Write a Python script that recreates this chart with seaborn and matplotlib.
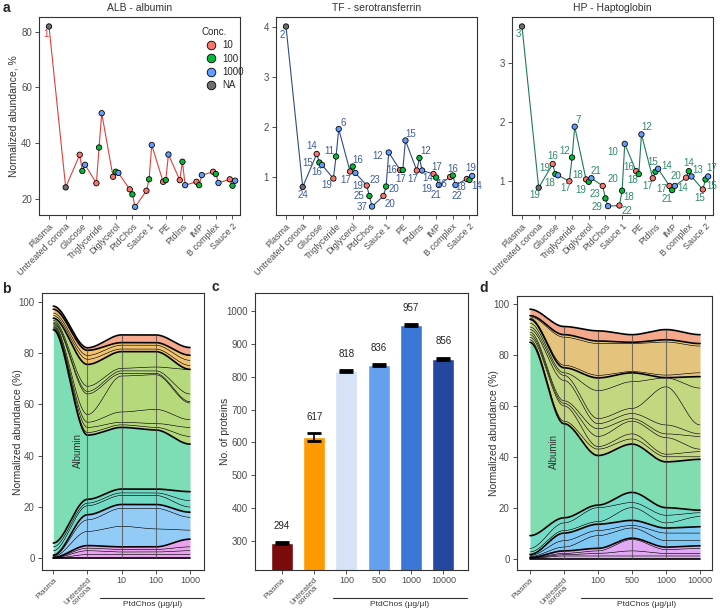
import matplotlib
matplotlib.use("Agg")
import matplotlib.pyplot as plt
import seaborn as sns
import pandas as pd
import numpy as np

sns.set_theme(style="ticks")
plt.rcParams['font.family'] = ['Liberation Sans', 'DejaVu Sans']
plt.rcParams.update({'axes.edgecolor': '#333333', 'axes.linewidth': 0.8,
                     'xtick.color': '#333333', 'ytick.color': '#333333',
                     'xtick.labelcolor': '#4d4d4d', 'ytick.labelcolor': '#4d4d4d',
                     'xtick.major.size': 3, 'ytick.major.size': 3,
                     'xtick.major.width': 0.6, 'ytick.major.width': 0.6})

# ---------------- panel a data ----------------
categories = ['Plasma', 'Untreated corona', 'Glucose', 'Triglyceride', 'Diglycerol', 'PtdChos',
              'Sauce 1', 'PE', 'PtdIns', 'IMP', 'B complex', 'Sauce 2']
conc_levels = ['10', '100', '1000', 'NA']
conc_seq = ['NA', 'NA'] + ['10', '100', '1000'] * 10
cat_seq = categories[:2] + [c for c in categories[2:] for _ in range(3)]

alb_vals = [81.8, 24.1,
            35.8, 30.0, 32.2, 25.6, 38.4, 50.7, 27.9, 29.7, 29.3, 23.4, 21.6, 17.1,
            22.9, 27.0, 39.3, 26.1, 26.7, 35.9, 26.7, 33.3, 24.9, 26.1, 24.9, 28.5,
            29.7, 28.9, 25.7, 27.0, 24.7, 26.5]
alb_labels = ['1'] + [''] * 31

tf_vals = [4.0, 0.79,
           1.45, 1.28, 1.23, 0.96, 1.40, 1.95, 1.10, 1.20, 1.07, 0.82, 0.61, 0.40,
           0.61, 0.80, 1.48, 1.13, 1.13, 1.72, 1.12, 1.37, 1.12, 1.05, 0.98, 0.83,
           0.99, 1.02, 0.83, 0.95, 0.93, 1.01]
tf_labels = ['2', '24', '14', '15', '16', '19', '11', '6', '17', '16', '19', '23', '25', '37',
             '20', '20', '12', '16', '17', '15', '17', '12', '14', '17', '19', '21',
             '16', '16', '22', '18', '14', '19']

hp_vals = [3.61, 0.89,
           1.29, 1.12, 1.10, 1.00, 1.40, 1.92, 1.03, 0.99, 1.05, 0.92, 0.71, 0.58,
           0.59, 0.84, 1.63, 1.17, 1.12, 1.79, 1.05, 1.16, 1.21, 0.92, 0.85, 0.92,
           1.06, 1.17, 1.08, 0.86, 1.03, 1.08]
hp_labels = ['3', '19', '16', '19', '18', '17', '12', '7', '18', '19', '21', '20', '23', '29',
             '22', '18', '10', '16', '18', '12', '17', '15', '14', '17', '21', '14',
             '20', '14', '13', '15', '15', '17']

# label placement (pixel offsets, image convention: +y is down)
alb_off = [(-3, 8)] + [(0, 0)] * 31
tf_off = [(-4, 8), (0, 8), (-5, -8), (-12, 0), (-5, 7), (-7, 6), (-7, -6), (5, -6), (-4, 8), (5, -7),
          (2, 13), (8, -6), (-10, 0), (-10, 0), (7, 8), (8, 2), (-11, 3), (-8, 0), (-2, 9), (5, -7),
          (-4, 8), (6, -7), (6, 7), (3, -7), (-9, 11), (-3, 10), (-8, 7), (0, -7), (1, 11), (-6, 8),
          (7, 6), (-1, -8)]
hp_off = [(-4, 8), (-4, 7), (0, -8), (-11, -6), (-8, 8), (-4, 7), (-7, -6), (3, -7), (-8, -4), (-8, 8),
          (5, -7), (10, -7), (-10, -4), (-11, 1), (8, 5), (7, 6), (-12, 8), (-7, -4), (-6, 6), (5, -7),
          (-5, 8), (-3, -10), (9, -3), (-8, 3), (-5, 9), (8, 2), (-10, -2), (0, -8), (6, -6), (-3, 8),
          (6, 7), (4, -8)]

conc_palette = {'10': '#F8766D', '100': '#00BA38', '1000': '#619CFF', 'NA': '#6e6e6e'}
dodge = {'10': -0.16, '100': 0.0, '1000': 0.16, 'NA': 0.0}

# ---------------- panel b / d data (stratum thickness, bottom to top) ----------------
b_conditions = ['Plasma', 'Untreated\ncorona', '10', '100', '1000']
b_groups = ['pink'] * 4 + ['blue'] * 3 + ['teal'] * 3 + ['albumin'] + ['lgreen'] * 8 + ['orange'] * 3 + ['salmon']
b_strata = [
    [0.1, 1.5, 1.5, 1.5, 1.5], [0.1, 1.5, 1.0, 1.0, 1.5], [0.1, 1.0, 1.0, 1.0, 1.5], [0.1, 1.0, 1.0, 1.0, 3.0],
    [0.3, 5.5, 8.0, 7.0, 3.5], [0.3, 4.5, 7.0, 8.0, 5.0], [0.3, 2.0, 1.5, 1.5, 2.0],
    [1.7, 3.5, 3.5, 3.5, 2.0], [1.5, 1.0, 1.0, 1.0, 2.5], [1.5, 1.5, 1.5, 1.5, 3.5],
    [83.0, 25.0, 24.0, 23.0, 18.5],
    [0.5, 1.0, 1.0, 1.0, 3.0], [0.5, 2.0, 1.0, 1.5, 3.5], [0.5, 2.0, 4.0, 5.5, 3.0], [0.5, 3.0, 14.0, 13.5, 6.5],
    [0.5, 8.0, 1.0, 0.5, 0.5], [0.5, 1.0, 1.0, 1.0, 3.0], [0.7, 2.0, 1.0, 1.5, 9.5], [0.8, 8.5, 6.5, 6.0, 0.1],
    [1.0, 2.0, 1.0, 1.0, 1.5], [1.0, 1.5, 1.5, 1.5, 2.0], [1.5, 2.0, 1.0, 1.0, 2.0],
    [1.2, 1.0, 3.0, 3.0, 3.0],
]
b_colors = {'pink': '#EBA3F0', 'blue': '#93CBF7', 'teal': '#72DBC5', 'albumin': '#7DDDB4',
            'lgreen': '#B5D97B', 'orange': '#F1C36F', 'salmon': '#F6A98C'}

d_conditions = ['Plasma', 'Untreated\ncorona', '100', '500', '1000', '10000']
d_groups = b_groups
d_strata = [
    [0.1, 1.0, 1.0, 1.0, 1.0, 1.0], [0.1, 0.5, 1.0, 2.0, 1.0, 1.0], [0.1, 0.5, 1.0, 4.5, 1.5, 2.0],
    [0.1, 1.0, 1.0, 0.5, 1.0, 1.0],
    [0.4, 1.5, 5.0, 4.0, 2.5, 2.0], [0.4, 2.5, 2.0, 1.0, 3.0, 3.0], [0.4, 3.0, 2.5, 2.0, 2.0, 2.5],
    [1.0, 1.0, 1.0, 5.0, 2.0, 4.0], [1.4, 3.0, 5.5, 2.0, 3.0, 1.5], [5.0, 2.0, 1.0, 4.0, 3.0, 1.0],
    [76.0, 37.0, 19.5, 19.0, 18.0, 20.0],
    [1.0, 1.0, 2.5, 2.0, 2.0, 1.0], [1.0, 6.0, 1.0, 2.0, 1.0, 2.0], [1.0, 1.0, 4.0, 5.0, 6.5, 1.0],
    [1.0, 1.0, 3.0, 1.0, 1.5, 5.0], [1.0, 8.0, 2.0, 2.0, 3.5, 1.0], [1.0, 2.0, 2.0, 2.0, 15.0, 3.5],
    [1.5, 1.0, 11.0, 10.5, 3.5, 14.5], [1.5, 2.0, 5.0, 3.5, 0.1, 4.5],
    [0.5, 1.0, 1.0, 0.5, 1.0, 1.5], [0.5, 11.0, 12.5, 11.0, 13.0, 10.5], [0.5, 1.0, 1.0, 0.5, 0.9, 1.0],
    [2.5, 3.2, 4.0, 3.0, 4.0, 3.5],
]
d_colors = {'pink': '#E1A8F4', 'blue': '#7FC8F3', 'teal': '#74DCC6', 'albumin': '#80DDB0',
            'lgreen': '#C3D680', 'orange': '#E4C37C', 'salmon': '#F4A98A'}

# ---------------- panel c data ----------------
c_conditions = ['Plasma', 'Untreated\ncorona', '100', '500', '1000', '10000']
c_counts = [294, 617, 818, 836, 957, 856]
c_errors = [3, 12, 2, 3, 3, 3]
c_colors = ['#7B0B0B', '#FF9900', '#D6E2F7', '#64A0EE', '#3B77D6', '#2447A0']

fig = plt.figure(figsize=(7.2, 6.1), dpi=100)
W, H = 720, 610


def add_axes_px(l, t, r, b):
    return fig.add_axes([l / W, 1 - b / H, (r - l) / W, (b - t) / H])


def style_ticks(ax):
    ax.tick_params(labelsize=7, pad=2)
    for s in ax.spines.values():
        s.set_color('#333333')
        s.set_linewidth(0.8)


def rotate_first_two(ax):
    ax.tick_params(axis='x', pad=1.5)
    for k, tl in enumerate(ax.get_xticklabels()):
        if k < 2:
            tl.set_rotation(45)
            tl.set_ha('right')
            tl.set_rotation_mode('anchor')
            tl.set_multialignment('center')
            tl.set_linespacing(0.85)
            tl.set_fontsize(5.8)


# ---------------- panel a ----------------
panels_a = [('ALB - albumin', alb_vals, alb_labels, alb_off, '#E0403A', '#E0403A', (14.2, 85.2), [20, 40, 60, 80], 39),
            ('TF - serotransferrin', tf_vals, tf_labels, tf_off, '#2F4C8C', '#3D5C9A', (0.23, 4.19), [1, 2, 3, 4], 276),
            ('HP - Haptoglobin', hp_vals, hp_labels, hp_off, '#1E7A5A', '#2E8B68', (0.43, 3.77), [1, 2, 3], 512)]

for i, (title, vals, labs, offs, lcol, tcol, ylim, yt, left) in enumerate(panels_a):
    ax = add_axes_px(left, 17, left + 201, 215)
    df = pd.DataFrame({'Category': cat_seq, 'Conc': conc_seq, 'Value': vals, 'Label': labs})
    df['x'] = [categories.index(c) + dodge[k] for c, k in zip(df['Category'], df['Conc'])]
    sns.lineplot(data=df, x='x', y='Value', sort=False, estimator=None, color=lcol, lw=0.8, ax=ax)
    sns.scatterplot(data=df, x='x', y='Value', hue='Conc', hue_order=conc_levels, palette=conc_palette,
                    edgecolor='black', linewidth=0.6, s=15, zorder=3, ax=ax, legend=(i == 0))
    for xv, yv, lab, (dx, dy) in zip(df['x'], df['Value'], df['Label'], offs):
        if lab:
            ax.annotate(lab, (xv, yv), xytext=(dx, -dy), textcoords='offset pixels',
                        ha='center', va='center', fontsize=7, color=tcol)
    ax.set_xlim(-0.6, 11.45)
    ax.set_ylim(*ylim)
    ax.set_yticks(yt)
    ax.set_xticks(range(len(categories)))
    ax.set_xticklabels(categories, rotation=45, ha='right', rotation_mode='anchor', fontsize=6.5)
    ax.set_xlabel('')
    ax.set_ylabel('Normalized abundance, %' if i == 0 else '', fontsize=7.5, color='#333333')
    ax.yaxis.set_label_coords(-0.10, 0.5)
    ax.set_title(title, fontsize=7.5, color='#333333', pad=4)
    style_ticks(ax)
    ax.tick_params(axis='x', labelsize=6.5)
    if i == 0:
        h, l = ax.get_legend_handles_labels()
        leg = ax.legend(h, l, title='Conc.', loc='upper left', bbox_to_anchor=(0.79, 0.97), frameon=False,
                        fontsize=7, title_fontsize=7, handletextpad=0.1, labelspacing=0.35, markerscale=1.6,
                        borderaxespad=0)
        leg._legend_box.align = 'left'


# ---------------- alluvial helper ----------------
def smooth_curves(strata):
    arr = np.array(strata)
    bounds = np.vstack([np.zeros(arr.shape[1]), np.cumsum(arr, axis=0)])
    nx = arr.shape[1]
    xs, ys = [], []
    t = np.linspace(0, 1, 60)
    s = t * t * (3 - 2 * t)
    for j in range(nx - 1):
        xs.append(j + t)
        ys.append(bounds[:, j:j + 1] + (bounds[:, j + 1:j + 2] - bounds[:, j:j + 1]) * s)
    return np.concatenate(xs), np.concatenate(ys, axis=1), bounds


def draw_alluvial(ax, strata, groups, colors):
    xs, ys, bounds = smooth_curves(strata)
    for k in range(len(strata)):
        ax.fill_between(xs, ys[k], ys[k + 1], color=colors[groups[k]], lw=0, zorder=1)
    for k in range(len(strata) + 1):
        edge = k == 0 or k == len(strata) or groups[k - 1] != groups[k]
        ax.plot(xs, ys[k], color='black', lw=1.2 if edge else 0.45, zorder=2)
    for j in range(1, bounds.shape[1] - 1):
        ax.plot([j, j], [0, bounds[-1, j]], color='#444444', lw=0.8, alpha=0.7, zorder=3)


def alluvial_axes(ax, conditions, ylabel_x, line_x0, line_y, text_y):
    ax.set_ylim(-4.5, 103.2)
    ax.set_yticks([0, 20, 40, 60, 80, 100])
    ax.set_xticks(range(len(conditions)))
    ax.set_xticklabels(conditions, fontsize=6.5)
    ax.set_ylabel('Normalized abundance (%)', fontsize=7.5, color='#333333')
    ax.yaxis.set_label_coords(ylabel_x, 0.5)
    ax.text(0.72, 42, 'Albumin', rotation=90, ha='center', va='center', fontsize=7, color='#333333', zorder=4)
    ax.plot([line_x0, 1.0], [line_y, line_y], transform=ax.transAxes, color='#333333', lw=0.8, clip_on=False)
    ax.text((line_x0 + 1.0) / 2, text_y, 'PtdChos (µg/µl)', transform=ax.transAxes, ha='center', va='center',
            fontsize=6, color='#333333')
    style_ticks(ax)
    ax.tick_params(axis='x', labelsize=6.5)
    rotate_first_two(ax)


# ---------------- panel b ----------------
axb = add_axes_px(41.7, 293.3, 204, 570)
draw_alluvial(axb, b_strata, b_groups, b_colors)
axb.set_xlim(-0.34, 4.41)
alluvial_axes(axb, b_conditions, -0.115, 0.36, -0.1, -0.125)

# ---------------- panel d ----------------
axd = add_axes_px(516.7, 296, 712.3, 570)
draw_alluvial(axd, d_strata, d_groups, d_colors)
axd.set_xlim(-0.39, 5.36)
alluvial_axes(axd, d_conditions, -0.09, 0.33, -0.103, -0.125)

# ---------------- panel c ----------------
axc = add_axes_px(255, 293.3, 468.3, 570)
sns.barplot(x=c_conditions, y=c_counts, hue=c_conditions, palette=c_colors, saturation=1,
            width=0.68, legend=False, ax=axc)
axc.errorbar(range(len(c_counts)), c_counts, yerr=c_errors, fmt='none', ecolor='black',
             elinewidth=1.2, capsize=5, capthick=2, zorder=4)
for k, (v, e) in enumerate(zip(c_counts, c_errors)):
    axc.annotate(str(v), (k, v + e), xytext=(0, 8), textcoords='offset points', ha='center',
                 va='bottom', fontsize=7, color='#222222')
axc.set_xlim(-0.83, 5.77)
axc.set_ylim(211, 1055)
axc.set_yticks(range(300, 1001, 100))
axc.set_ylabel('No. of proteins', fontsize=7.5, color='#333333')
axc.yaxis.set_label_coords(-0.117, 0.5)
axc.set_xlabel('')
axc.set_xticks(range(len(c_conditions)))
axc.set_xticklabels(c_conditions, fontsize=6.5)
style_ticks(axc)
axc.tick_params(axis='x', labelsize=6.5)
rotate_first_two(axc)
axc.plot([0.366, 0.995], [-0.1, -0.1], transform=axc.transAxes, color='#333333', lw=0.8, clip_on=False)
axc.text(0.68, -0.125, 'PtdChos (µg/µl)', transform=axc.transAxes, ha='center', va='center',
         fontsize=6, color='#333333')

# panel letters
for letter, (px, py) in {'a': (6, 8), 'b': (6, 289), 'c': (215, 287), 'd': (484, 288)}.items():
    fig.text(px / W, 1 - py / H, letter, fontsize=10, fontweight='bold', ha='center', va='center')

fig.savefig('out.png', dpi=100)
